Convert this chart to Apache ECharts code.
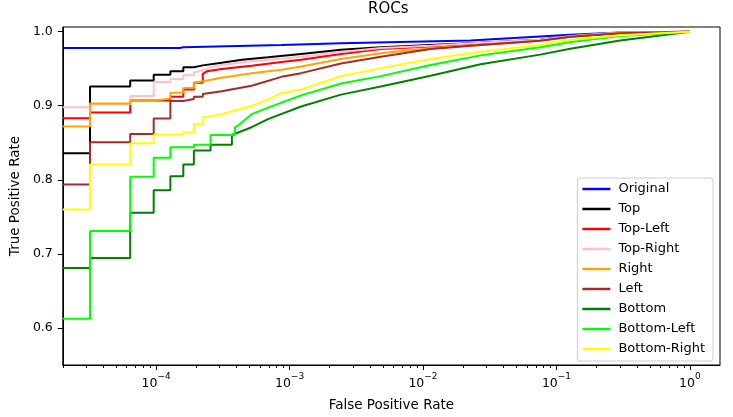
<!DOCTYPE html>
<html><head><meta charset="utf-8">
<script src="https://cdn.jsdelivr.net/npm/echarts@6/dist/echarts.min.js"></script>
<style>html,body{margin:0;padding:0;background:#fff}#c{width:733px;height:417px}</style>
</head><body><div id="c"></div>
<script>
// ---- data ----
const seriesNames = ['Original','Top','Top-Left','Top-Right','Right','Left','Bottom','Bottom-Left','Bottom-Right'];
const seriesColors = ['#0000ff','#000000','#ff0000','#ffc0cb','#ffa500','#a52a2a','#008000','#00ff00','#ffff00'];

const rocOriginal = [[2e-5,0.978],[1.5e-4,0.978],[1.6e-4,0.979],[8.7e-4,0.982],[2.43e-3,0.9845],[0.0227,0.988],[0.127,0.996],[0.3,0.999],[1,1]];
const rocTop = [[2e-5,0.836],[3.2e-5,0.836],[3.2e-5,0.926],[6.4e-5,0.926],[6.4e-5,0.934],[9.6e-5,0.934],[9.6e-5,0.942],[1.28e-4,0.942],[1.28e-4,0.9465],[1.6e-4,0.9465],[1.6e-4,0.952],[1.92e-4,0.952],[1.92e-4,0.9545],[2.24e-4,0.9545],[2.24e-4,0.957],[3.1e-4,0.958],[4.4e-4,0.962],[6.9e-4,0.9655],[1.22e-3,0.970],[2.43e-3,0.9755],[4.83e-3,0.979],[0.0114,0.982],[0.027,0.985],[0.0755,0.989],[0.127,0.994],[0.3,0.998],[1,1]];
const rocTopLeft = [[2e-5,0.883],[3.2e-5,0.883],[3.2e-5,0.891],[6.4e-5,0.891],[6.4e-5,0.907],[1.28e-4,0.907],[1.28e-4,0.912],[1.6e-4,0.912],[1.6e-4,0.922],[1.92e-4,0.922],[1.92e-4,0.931],[2.24e-4,0.931],[2.24e-4,0.943],[2.4e-4,0.9465],[3.1e-4,0.9497],[5.2e-4,0.954],[8.7e-4,0.959],[1.22e-3,0.962],[2.43e-3,0.970],[4.83e-3,0.9765],[0.0114,0.980],[0.027,0.984],[0.0755,0.989],[0.127,0.993],[0.3,0.999],[1,1]];
const rocTopRight = [[2e-5,0.898],[3.2e-5,0.898],[3.2e-5,0.902],[6.4e-5,0.902],[6.4e-5,0.913],[9.6e-5,0.913],[9.6e-5,0.932],[1.28e-4,0.932],[1.28e-4,0.936],[1.6e-4,0.936],[1.6e-4,0.941],[1.92e-4,0.941],[1.92e-4,0.945],[2.24e-4,0.948],[2.6e-4,0.9524],[3.1e-4,0.955],[5.2e-4,0.960],[8.7e-4,0.9635],[1.22e-3,0.966],[2.43e-3,0.9725],[4.83e-3,0.978],[0.0114,0.981],[0.027,0.985],[0.0755,0.989],[0.127,0.994],[0.3,0.999],[1,1]];
const rocRight = [[2e-5,0.872],[3.2e-5,0.872],[3.2e-5,0.903],[6.4e-5,0.903],[6.4e-5,0.907],[9.6e-5,0.907],[9.6e-5,0.9096],[1.28e-4,0.9096],[1.28e-4,0.9176],[1.6e-4,0.9176],[1.6e-4,0.924],[1.92e-4,0.924],[1.92e-4,0.931],[2.24e-4,0.933],[3.1e-4,0.9377],[5.2e-4,0.944],[8.7e-4,0.9485],[1.22e-3,0.953],[2.43e-3,0.963],[4.83e-3,0.9708],[0.0114,0.9775],[0.027,0.982],[0.0755,0.9876],[0.127,0.993],[0.3,0.9985],[1,1]];
const rocLeft = [[2e-5,0.7936],[3.2e-5,0.7936],[3.2e-5,0.8507],[6.4e-5,0.8507],[6.4e-5,0.862],[9.6e-5,0.862],[9.6e-5,0.8828],[1.28e-4,0.8828],[1.28e-4,0.9064],[1.6e-4,0.9064],[1.6e-4,0.909],[1.92e-4,0.909],[1.92e-4,0.912],[2.24e-4,0.912],[2.24e-4,0.916],[3.1e-4,0.9197],[5.2e-4,0.927],[8.7e-4,0.939],[1.22e-3,0.944],[2.43e-3,0.957],[4.83e-3,0.966],[0.0114,0.9765],[0.027,0.982],[0.0755,0.9876],[0.127,0.993],[0.3,0.998],[1,1]];
const rocBottom = [[2e-5,0.681],[3.2e-5,0.681],[3.2e-5,0.6946],[6.4e-5,0.6946],[6.4e-5,0.7557],[9.6e-5,0.7557],[9.6e-5,0.786],[1.28e-4,0.786],[1.28e-4,0.8047],[1.6e-4,0.8047],[1.6e-4,0.8207],[1.92e-4,0.8207],[1.92e-4,0.8395],[2.56e-4,0.8395],[2.56e-4,0.8475],[3.7e-4,0.8475],[3.7e-4,0.8605],[5.2e-4,0.871],[6.9e-4,0.882],[1.22e-3,0.899],[2.43e-3,0.915],[4.83e-3,0.926],[0.0114,0.9405],[0.027,0.956],[0.0755,0.969],[0.127,0.977],[0.3,0.988],[1,1]];
const rocBottomLeft = [[2e-5,0.6125],[3.2e-5,0.6125],[3.2e-5,0.731],[6.4e-5,0.731],[6.4e-5,0.804],[9.6e-5,0.804],[9.6e-5,0.8297],[1.28e-4,0.8297],[1.28e-4,0.844],[1.92e-4,0.844],[1.92e-4,0.8475],[2.56e-4,0.8475],[2.56e-4,0.8605],[3.9e-4,0.8605],[3.9e-4,0.871],[4.1e-4,0.873],[5.2e-4,0.8886],[6.9e-4,0.8975],[1.22e-3,0.914],[2.43e-3,0.930],[4.83e-3,0.940],[0.0114,0.955],[0.027,0.968],[0.0755,0.979],[0.127,0.986],[0.3,0.994],[1,1]];
const rocBottomRight = [[2e-5,0.760],[3.2e-5,0.760],[3.2e-5,0.8207],[6.4e-5,0.8207],[6.4e-5,0.8494],[9.6e-5,0.8494],[9.6e-5,0.861],[1.6e-4,0.861],[1.6e-4,0.864],[1.92e-4,0.864],[1.92e-4,0.875],[2.24e-4,0.875],[2.24e-4,0.884],[2.6e-4,0.886],[3.1e-4,0.8886],[3.9e-4,0.894],[5.2e-4,0.8997],[6.9e-4,0.9086],[8.7e-4,0.917],[1.22e-3,0.922],[2.43e-3,0.940],[4.83e-3,0.9508],[0.0114,0.9632],[0.027,0.973],[0.0755,0.982],[0.127,0.9886],[0.3,0.995],[1,1]];

const allCurves = [rocOriginal, rocTop, rocTopLeft, rocTopRight, rocRight, rocLeft, rocBottom, rocBottomLeft, rocBottomRight];

const xMajorTicks = [1e-4, 1e-3, 1e-2, 1e-1, 1];
const xMinorTicks = [2e-5,3e-5,4e-5,5e-5,6e-5,7e-5,8e-5,9e-5,
  2e-4,3e-4,4e-4,5e-4,6e-4,7e-4,8e-4,9e-4,
  2e-3,3e-3,4e-3,5e-3,6e-3,7e-3,8e-3,9e-3,
  0.02,0.03,0.04,0.05,0.06,0.07,0.08,0.09,
  0.2,0.3,0.4,0.5,0.6,0.7,0.8,0.9];
const yTicks = [0.6, 0.7, 0.8, 0.9, 1.0];

// ---- chart ----
const FONT = 'DejaVu Sans';
function logLabel(v) {
  const e = Math.round(Math.log10(v));
  return '{b|10}{s|' + (e < 0 ? '\u2212' + (-e) : String(e)) + '}';
}
const X_MIN = 2e-5, X_MAX = 1.68;

const chart = echarts.init(document.getElementById('c'), null, {renderer: 'canvas'});
chart.setOption({
  animation: false,
  backgroundColor: '#fff',
  textStyle: {fontFamily: FONT},
  title: {
    text: 'ROCs', left: 368, top: 2, padding: 0,
    textStyle: {fontFamily: FONT, fontSize: 15, fontWeight: 'normal', color: '#000'}
  },
  grid: {left: 61, right: 13, top: 27, bottom: 49, show: true, borderColor: '#000', borderWidth: 1, backgroundColor: 'transparent'},
  legend: {
    orient: 'vertical', align: 'left', right: 20, bottom: 56,
    itemWidth: 28, itemHeight: 2.5, icon: 'rect', itemGap: 4,
    padding: [3, 8, 4, 5],
    backgroundColor: 'rgba(255,255,255,0.8)', borderColor: '#cccccc', borderWidth: 1, borderRadius: 3,
    textStyle: {fontFamily: FONT, fontSize: 13, color: '#000', lineHeight: 16, padding: [0, 0, 0, 3]},
    data: seriesNames
  },
  xAxis: [{
    type: 'log', logBase: 10, min: X_MIN, max: X_MAX,
    name: 'False Positive Rate', nameLocation: 'middle', nameGap: 33,
    nameTextStyle: {fontFamily: FONT, fontSize: 13.5, color: '#000'},
    axisLine: {show: true, lineStyle: {color: '#000', width: 1}},
    axisTick: {show: true, length: 5, lineStyle: {color: '#000'}, customValues: xMajorTicks},
    axisLabel: {
      show: true, margin: 7, color: '#000', fontFamily: FONT, customValues: xMajorTicks, formatter: logLabel,
      rich: {
        b: {fontSize: 12.5, fontFamily: FONT, color: '#000', padding: [5, 0, 0, 0], verticalAlign: 'bottom'},
        s: {fontSize: 9, fontFamily: FONT, color: '#000', verticalAlign: 'top'}
      }
    },
    splitLine: {show: false}, minorTick: {show: false}
  }, {
    type: 'log', logBase: 10, min: X_MIN, max: X_MAX, position: 'bottom', offset: 0,
    axisLine: {show: false},
    axisTick: {show: true, length: 3, lineStyle: {color: '#000'}, customValues: xMinorTicks},
    axisLabel: {show: false},
    splitLine: {show: false}
  }],
  yAxis: {
    type: 'value', min: 0.55, max: 1.0063,
    name: 'True Positive Rate', nameLocation: 'middle', nameGap: 40,
    nameTextStyle: {fontFamily: FONT, fontSize: 13.5, color: '#000'},
    axisLine: {show: true, lineStyle: {color: '#000', width: 1}},
    axisTick: {show: true, length: 5, lineStyle: {color: '#000'}, customValues: yTicks},
    axisLabel: {show: true, margin: 10, color: '#000', fontSize: 12.5, fontFamily: FONT, customValues: yTicks, formatter: v => v.toFixed(1)},
    splitLine: {show: false}
  },
  series: seriesNames.map((name, i) => ({
    name: name, type: 'line', xAxisIndex: 0, yAxisIndex: 0,
    data: allCurves[i], symbol: 'none', showSymbol: false, clip: true,
    color: seriesColors[i],
    itemStyle: {color: seriesColors[i]},
    lineStyle: {color: seriesColors[i], width: 2},
    emphasis: {disabled: true}
  }))
});
</script>
</body></html>
